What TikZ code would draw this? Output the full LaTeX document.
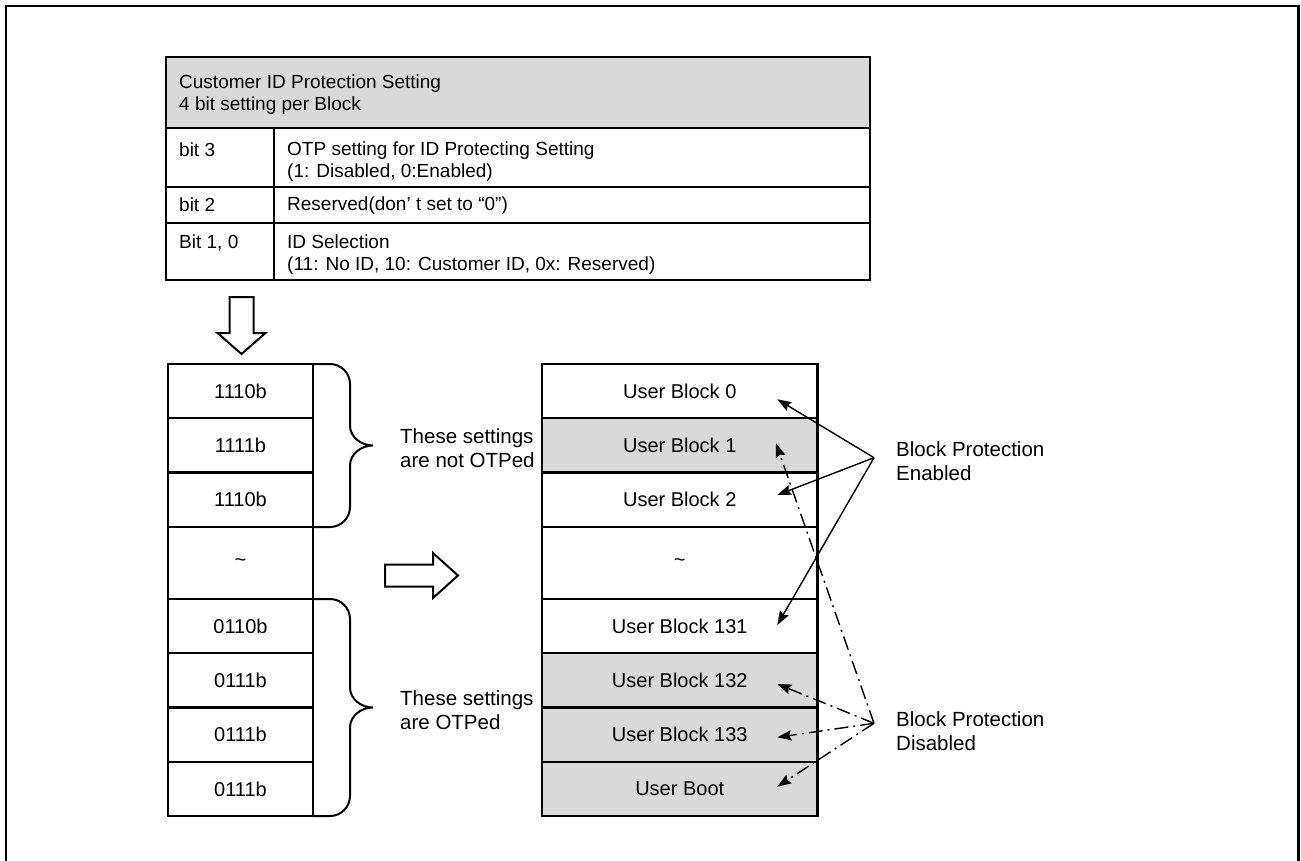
\documentclass[tikz,border=0pt]{standalone}
\usepackage{fontspec}
\setmainfont{Liberation Sans}
\usetikzlibrary{arrows.meta,calc}
\definecolor{cellgray}{HTML}{D9D9D9}
\begin{document}
\begin{tikzpicture}[x=1pt,y=-1pt,
  cellbox/.style={draw, line width=2.2pt, inner sep=0pt, outer sep=0pt},
  tabtext/.style={font=\fontsize{19}{22}\selectfont, align=left, inner sep=0pt, anchor=west},
  coltext/.style={font=\fontsize{20}{24}\selectfont},
  anntext/.style={font=\fontsize{20.5}{24.4}\selectfont, align=left, inner sep=0pt, anchor=west},
  ptr/.style={line width=1.4pt, -{Stealth[length=14pt,width=10pt,inset=2pt]}},
  dptr/.style={ptr, dash pattern=on 14pt off 5pt on 2pt off 5pt},
  blockarrow/.style={draw, line width=2pt, fill=white, line join=miter},
  bracestyle/.style={line width=2pt},
  lcell/.style={cellbox, coltext, minimum width=145, minimum height=#1},
  rcell/.style={cellbox, coltext, minimum width=275.5, minimum height=#1},
]
\useasboundingbox (0,0) rectangle (1301,861);
% outer frame (open at the bottom)
\draw[line width=2.3pt] (6,861) -- (6,6) -- (1298.5,6) -- (1298.5,861);

% ---- table ----
\node[cellbox, fill=cellgray, minimum width=704, minimum height=71, anchor=north west] (hdr) at (166,57) {};
\node[cellbox, minimum width=108, minimum height=59, anchor=north west] (b3l) at (166,128) {};
\node[cellbox, minimum width=596, minimum height=59, anchor=north west] (b3r) at (274,128) {};
\node[cellbox, minimum width=108, minimum height=36, anchor=north west] (b2l) at (166,187) {};
\node[cellbox, minimum width=596, minimum height=36, anchor=north west] (b2r) at (274,187) {};
\node[cellbox, minimum width=108, minimum height=57, anchor=north west] (b1l) at (166,223) {};
\node[cellbox, minimum width=596, minimum height=57, anchor=north west] (b1r) at (274,223) {};

\node[tabtext] (thdr) at (179,94.5) {Customer ID Protection Setting\\4 bit setting per Block};
\node[tabtext] (t3l) at (179,150) {bit 3};
\node[tabtext] (t3r) at (287,162) {OTP setting for ID Protecting Setting\\(1: Disabled, 0:Enabled)};
\node[tabtext] (t2l) at (179,205) {bit 2};
\node[tabtext] (t2r) at (287,206) {Reserved(don’ t set to “0”)};
\node[tabtext] (t1l) at (179,243) {Bit 1, 0};
\node[tabtext] (t1r) at (287,255) {ID Selection\\(11: No ID, 10: Customer ID, 0x: Reserved)};

% ---- block arrows ----
\draw[blockarrow] (229.5,297) -- (253.5,297) -- (253.5,333) -- (265.5,333) -- (241.5,354) -- (217.5,333) -- (229.5,333) -- cycle;
\draw[blockarrow] (385,564.5) -- (433,564.5) -- (433,553) -- (458,575.5) -- (433,598) -- (433,586.5) -- (385,586.5) -- cycle;

% ---- left column ----
\node[lcell=54]   (l1) at (240.5,391)    {1110b};
\node[lcell=54.5] (l2) at (240.5,445.25) {1111b};
\node[lcell=54.5] (l3) at (240.5,499.75) {1110b};
\node[lcell=72]   (l4) at (240.5,563)    {\textasciitilde};
\node[lcell=54]   (l5) at (240.5,626)    {0110b};
\node[lcell=54.5] (l6) at (240.5,680.25) {0111b};
\node[lcell=54.5] (l7) at (240.5,734.75) {0111b};
\node[lcell=54]   (l8) at (240.5,789)    {0111b};

% ---- right column ----
\node[rcell=54]                  (r1) at (679.75,391)    {User Block 0};
\node[rcell=54.5, fill=cellgray] (r2) at (679.75,445.25) {User Block 1};
\node[rcell=54.5]                (r3) at (679.75,499.75) {User Block 2};
\node[rcell=72]                  (r4) at (679.75,563)    {\textasciitilde};
\node[rcell=54]                  (r5) at (679.75,626)    {User Block 131};
\node[rcell=54.5, fill=cellgray] (r6) at (679.75,680.25) {User Block 132};
\node[rcell=54.5, fill=cellgray] (r7) at (679.75,734.75) {User Block 133};
\node[rcell=54, fill=cellgray]   (r8) at (679.75,789)    {User Boot};

% ---- braces ----
\draw[bracestyle] (l1.north east) -- ++(17,0) .. controls +(11,0) and +(0,-11) .. ++(20,20)
  -- ++(0,41.5) .. controls +(0,11.5) and +(-12,0) .. ++(23,20) coordinate (tipA)
  .. controls +(-12,0) and +(0,-11.5) .. ++(-23,20) -- ++(0,41.5)
  .. controls +(0,11) and +(11,0) .. ++(-20,20) -- (l3.south east);
\draw[bracestyle] (l5.north east) -- ++(17,0) .. controls +(11,0) and +(0,-11) .. ++(20,20)
  -- ++(0,68.5) .. controls +(0,11.5) and +(-12,0) .. ++(23,20) coordinate (tipB)
  .. controls +(-12,0) and +(0,-11.5) .. ++(-23,20) -- ++(0,68.5)
  .. controls +(0,11) and +(11,0) .. ++(-20,20) -- (l8.south east);

\node[anntext] (nototp) at ($(tipA)+(27,2.5)$) {These settings\\are not OTPed};
\node[anntext] (otp) at ($(tipB)+(27,2.5)$) {These settings\\are OTPed};

% ---- protection annotations ----
\node[anntext] (en) at (896,461) {Block Protection\\Enabled};
\node[anntext] (dis) at (896,731) {Block Protection\\Disabled};
\coordinate (eo) at (874,457.7);
\coordinate (do) at (874,723.3);
\coordinate (p0) at (777.3,399.3);
\coordinate (p1) at (776,443.3);
\coordinate (p2) at (777.3,495);
\coordinate (p131) at (777.3,625);
\coordinate (p132) at (777.3,684);
\coordinate (p133) at (777.3,737.3);
\coordinate (pboot) at (777.3,786.7);

\draw[ptr] (eo) -- (p0);
\draw[ptr] (eo) -- (p2);
\draw[ptr] (eo) -- (p131);
\draw[dptr] (do) -- (p1);
\draw[dptr] (do) -- (p132);
\draw[dptr] (do) -- (p133);
\draw[dptr] (do) -- (pboot);
\end{tikzpicture}
\end{document}
